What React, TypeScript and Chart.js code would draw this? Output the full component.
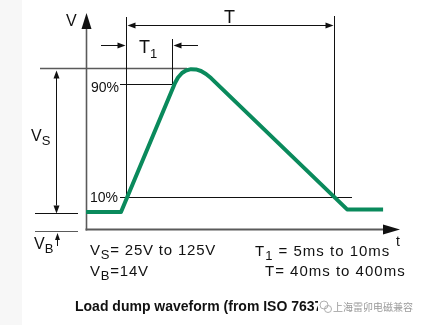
import React, { useEffect, useRef } from "react";
import { Chart, registerables } from "chart.js";

Chart.register(...registerables);

// Waveform: time in % of T (0 = start of T, 100 = end of T), voltage in % of Vs above VB
const waveTime = [-19.2, -2.4, 23.56, 25.0, 26.92, 28.85, 31.25, 33.65, 36.06, 38.46, 40.87, 106.3, 123.6];
const waveVolt = [-0.6, -0.6, 90.7, 94.6, 97.8, 99.6, 100.5, 100.3, 99.2, 97.1, 94.2, 1.2, 1.2];

// Reference levels
const levelLabels = ["90%", "10%"];
const levelValues = [90, 10];
const peakLevel = 101.5;
const baseLevel = -1.0;
const axisLevel = -13.0;

// Time markers
const axisTime = -19.2;
const periodStart = 0;
const periodEnd = 100;
const riseEnd = 22.1;

// Texts
const axisYLabel = "V";
const axisXLabel = "t";
const periodLabel = "T";
const riseLabel = ["T", "1"];
const vsLabel = ["V", "S"];
const vbLabel = ["V", "B"];
const noteLeft = [
  ["V", "S", "= 25V to 125V"],
  ["V", "B", "=14V"],
];
const noteRight = [
  ["T", "1", " = 5ms to 10ms"],
  ["T", "", "= 40ms to 400ms"],
];
const caption = "Load dump waveform (from ISO 7637)";
const watermark = "上海雷卯电磁兼容";

const FONT = "'Liberation Sans', Arial, sans-serif";
const GREEN = "#0a8a5c";
const INK = "#111111";
const AXIS = "#5a5a5a";

function seg(ctx: CanvasRenderingContext2D, x1: number, y1: number, x2: number, y2: number, color: string, w: number) {
  ctx.save();
  ctx.strokeStyle = color;
  ctx.lineWidth = w;
  ctx.beginPath();
  ctx.moveTo(x1, y1);
  ctx.lineTo(x2, y2);
  ctx.stroke();
  ctx.restore();
}

function head(ctx: CanvasRenderingContext2D, tx: number, ty: number, dir: string, len: number, half: number, color: string) {
  ctx.save();
  ctx.fillStyle = color;
  ctx.beginPath();
  ctx.moveTo(tx, ty);
  if (dir === "up") {
    ctx.lineTo(tx - half, ty + len);
    ctx.lineTo(tx + half, ty + len);
  } else if (dir === "down") {
    ctx.lineTo(tx - half, ty - len);
    ctx.lineTo(tx + half, ty - len);
  } else if (dir === "left") {
    ctx.lineTo(tx + len, ty - half);
    ctx.lineTo(tx + len, ty + half);
  } else {
    ctx.lineTo(tx - len, ty - half);
    ctx.lineTo(tx - len, ty + half);
  }
  ctx.closePath();
  ctx.fill();
  ctx.restore();
}

function text(ctx: CanvasRenderingContext2D, s: string, x: number, y: number, size: number, opts: any = {}) {
  ctx.save();
  ctx.font = `${opts.bold ? "bold " : ""}${size}px ${opts.family || FONT}`;
  ctx.fillStyle = opts.color || INK;
  ctx.textAlign = opts.align || "left";
  ctx.textBaseline = opts.baseline || "alphabetic";
  if (opts.spacing) (ctx as any).letterSpacing = `${opts.spacing}px`;
  ctx.fillText(s, x, y);
  const w = ctx.measureText(s).width;
  ctx.restore();
  return w;
}

function subText(ctx: CanvasRenderingContext2D, main: string, sub: string, rest: string, x: number, y: number, size: number, subSize: number, spacing = 0) {
  let cx = x;
  cx += text(ctx, main, cx, y, size, { spacing });
  if (sub) cx += text(ctx, sub, cx, y + size * 0.27, subSize, { spacing });
  if (rest) cx += text(ctx, rest, cx, y, size, { spacing });
  return cx;
}

const decoPlugin = {
  id: "deco",
  beforeDraw(chart: any) {
    const ctx = chart.ctx as CanvasRenderingContext2D;
    ctx.save();
    ctx.fillStyle = "#ffffff";
    ctx.fillRect(0, 0, chart.width, chart.height);
    ctx.fillStyle = "#f7f7f7";
    ctx.fillRect(0, 0, 22, chart.height);
    ctx.restore();
  },
  beforeDatasetsDraw(chart: any) {
    const ctx = chart.ctx as CanvasRenderingContext2D;
    const X = (t: number) => chart.scales.x.getPixelForValue(t);
    const Y = (v: number) => chart.scales.y.getPixelForValue(v);
    const c = (p: number) => Math.round(p) + 0.5;

    const xA = c(X(axisTime));
    const yA = Y(axisLevel);
    const x0 = c(X(periodStart));
    const x1 = c(X(periodEnd));
    const xr = c(X(riseEnd));
    const yPeak = c(Y(peakLevel));
    const y90 = c(Y(levelValues[0]));
    const y10 = c(Y(levelValues[1]));
    const yBase = c(Y(baseLevel));

    // axes
    seg(ctx, xA, 27, xA, yA + 1, AXIS, 1.6);
    head(ctx, xA, 13, "up", 16, 5, INK);
    seg(ctx, xA - 1, yA, 385, yA, AXIS, 2);
    head(ctx, 400, yA, "right", 17, 5, INK);

    // level lines
    seg(ctx, 40, yPeak, 187, yPeak, AXIS, 1.3);
    seg(ctx, 120, y90, xr, y90, INK, 1);
    seg(ctx, xr, 39, xr, y90, INK, 1);
    seg(ctx, 120, y10, 352, y10, INK, 1);

    // T verticals
    seg(ctx, x0, 17, x0, y10, INK, 1);
    seg(ctx, x1, 16, x1, y10, INK, 1);

    // T arrow
    const yT = 25.5;
    seg(ctx, x0 + 4, yT, x1 - 4, yT, INK, 1);
    head(ctx, x0 + 1, yT, "left", 8, 3, INK);
    head(ctx, x1 - 1, yT, "right", 8, 3, INK);

    // T1 arrows
    const yT1 = 45.5;
    seg(ctx, 101, yT1, x0 - 5, yT1, INK, 1);
    head(ctx, x0 - 1, yT1, "right", 8, 3, INK);
    seg(ctx, 198, yT1, xr + 5, yT1, INK, 1);
    head(ctx, xr + 1, yT1, "left", 8, 3, INK);

    // Vs arrow
    const xs = 56.5;
    seg(ctx, xs, yPeak + 8, xs, yBase - 8, INK, 1);
    head(ctx, xs, yPeak + 2, "up", 8, 3, INK);
    head(ctx, xs, yBase, "down", 8, 3, INK);

    // VB lines
    seg(ctx, 35, yBase, 78, yBase, INK, 1);
    seg(ctx, 35, 231.5, 78, 231.5, AXIS, 1);
    seg(ctx, 57.5, 240, 57.5, 246, INK, 1);
    head(ctx, 57.5, 233, "up", 7, 2.5, INK);
  },
  afterDatasetsDraw(chart: any) {
    const ctx = chart.ctx as CanvasRenderingContext2D;
    const Y = (v: number) => chart.scales.y.getPixelForValue(v);

    text(ctx, axisYLabel, 66, 26, 16);
    text(ctx, axisXLabel, 396, 246, 14);
    text(ctx, periodLabel, 224, 23, 18);
    subText(ctx, riseLabel[0], riseLabel[1], "", 139, 53, 18, 13);

    text(ctx, levelLabels[0], 119, Y(levelValues[0]) + 8, 14, { align: "right" });
    text(ctx, levelLabels[1], 118, Y(levelValues[1]) + 5, 14, { align: "right" });

    subText(ctx, vsLabel[0], vsLabel[1], "", 31, 141, 16, 13);
    subText(ctx, vbLabel[0], vbLabel[1], "", 34, 249, 16, 13);

    subText(ctx, noteLeft[0][0], noteLeft[0][1], noteLeft[0][2], 90, 255, 15, 13, 0.8);
    subText(ctx, noteLeft[1][0], noteLeft[1][1], noteLeft[1][2], 90, 276, 15, 13, 0.8);
    subText(ctx, noteRight[0][0], noteRight[0][1], noteRight[0][2], 255, 256, 15, 13, 1);
    subText(ctx, noteRight[1][0], noteRight[1][1], noteRight[1][2], 265, 276, 15, 13, 1);

    ctx.save();
    ctx.beginPath();
    ctx.rect(0, 290, 318, 35);
    ctx.clip();
    text(ctx, caption, 75, 311, 14, { bold: true });
    ctx.restore();

    // watermark
    ctx.save();
    ctx.strokeStyle = "#b0b0b0";
    ctx.lineWidth = 1;
    ctx.beginPath();
    ctx.arc(324, 305, 4, 0, Math.PI * 2);
    ctx.stroke();
    ctx.beginPath();
    ctx.arc(328, 309, 3.5, 0, Math.PI * 2);
    ctx.stroke();
    ctx.restore();
    text(ctx, watermark, 333, 307, 10, { color: "#9a9a9a", baseline: "middle", family: "'Noto Sans CJK SC', sans-serif" });
  },
};

export default function App() {
  const ref = useRef<HTMLCanvasElement | null>(null);
  useEffect(() => {
    if (!ref.current) return;
    const chart = new Chart(ref.current, {
      type: "line",
      data: {
        datasets: [
          {
            data: waveTime.map((t, i) => ({ x: t, y: waveVolt[i] })),
            borderColor: GREEN,
            borderWidth: 4,
            pointRadius: 0,
            tension: 0,
            fill: false,
            borderJoinStyle: "round",
          } as any,
        ],
      },
      options: {
        animation: false,
        responsive: false,
        devicePixelRatio: 1,
        layout: { padding: 0 },
        events: [],
        plugins: { legend: { display: false }, tooltip: { enabled: false }, title: { display: false } },
        scales: {
          x: { type: "linear", min: -60.577, max: 144.231, display: false },
          y: { type: "linear", min: -80.62, max: 149.47, display: false },
        },
      },
      plugins: [decoPlugin],
    });
    return () => chart.destroy();
  }, []);
  return (
    <div style={{ position: "fixed", left: 0, top: 0, width: 426, height: 325, background: "#fff" }}>
      <canvas ref={ref} width={426} height={325} style={{ display: "block" }} />
    </div>
  );
}
